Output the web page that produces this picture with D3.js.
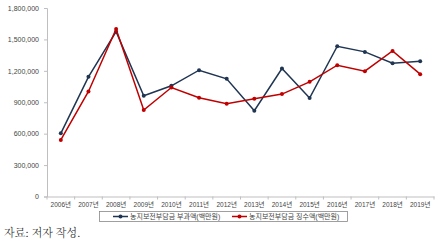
<!DOCTYPE html>
<html><head><meta charset="utf-8">
<script src="https://cdn.jsdelivr.net/npm/d3@7"></script>
<style>body{margin:0;background:#fff}svg{display:block}</style>
</head><body>
<svg id="c" width="445" height="244"></svg>
<script>
const years = ["2006년","2007년","2008년","2009년","2010년","2011년","2012년","2013년","2014년","2015년","2016년","2017년","2018년","2019년"];
const levied = [603000,1143000,1574000,962000,1057000,1206000,1124000,819000,1222000,940000,1435000,1381000,1273000,1292000];
const collected = [540000,1003000,1600000,825000,1041000,943000,886000,933000,978000,1095000,1254000,1197000,1390000,1168000];
const yTicks = [0,300000,600000,900000,1200000,1500000,1800000];
const seriesNames = ["농지보전부담금  부과액(백만원)","농지보전부담금  징수액(백만원)"];
const colors = ["#1f3552","#c00000"];

const svg = d3.select("#c");
const x = d3.scaleBand().domain(years).range([47,434]);
const y = d3.scaleLinear().domain([0,1800000]).range([196.5,8]);
const font = "Arial, 'Liberation Sans', 'Noto Sans CJK KR', sans-serif";

const ya = svg.append("g").attr("transform","translate(47,0)")
  .call(d3.axisLeft(y).tickValues(yTicks).tickFormat(d3.format(",")).tickSize(3).tickPadding(5));
ya.select(".domain").attr("stroke","#bfbfbf");
ya.selectAll(".tick line").attr("stroke","#bfbfbf");
ya.selectAll("text").attr("font-family",font).attr("font-size",7).attr("fill","#444");

const xa = svg.append("g").attr("transform","translate(0,196.5)")
  .call(d3.axisBottom(x).tickSize(0).tickPadding(6));
xa.select(".domain").attr("stroke","#bfbfbf");
xa.selectAll("text").attr("font-family",font).attr("font-size",6.5).attr("fill","#444");
const bounds = years.map(d=>x(d)).concat([x.range()[1]]);
xa.selectAll(".sep").data(bounds).enter().append("line")
  .attr("x1",d=>d).attr("x2",d=>d).attr("y1",0).attr("y2",3).attr("stroke","#bfbfbf");

const line = d3.line().x((d,i)=>x(years[i])+x.bandwidth()/2).y(d=>y(d));
[levied,collected].forEach((s,k)=>{
  svg.append("path").datum(s).attr("d",line).attr("fill","none")
    .attr("stroke",colors[k]).attr("stroke-width",1.5);
  svg.selectAll(".p"+k).data(s).enter().append("circle")
    .attr("cx",(d,i)=>x(years[i])+x.bandwidth()/2).attr("cy",d=>y(d))
    .attr("r",2).attr("fill",colors[k]);
});

const lg = svg.append("g");
lg.append("rect").attr("x",99.5).attr("y",211.5).attr("width",248).attr("height",10)
  .attr("fill","#fff").attr("stroke","#888").attr("stroke-width",0.8);
const lx = [113,232];
seriesNames.forEach((n,k)=>{
  lg.append("line").attr("x1",lx[k]).attr("x2",lx[k]+15).attr("y1",216.5).attr("y2",216.5)
    .attr("stroke",colors[k]).attr("stroke-width",1.5);
  lg.append("circle").attr("cx",lx[k]+7.5).attr("cy",216.5).attr("r",2).attr("fill",colors[k]);
  lg.append("text").attr("x",lx[k]+17).attr("y",216.5).attr("dy","0.35em")
    .attr("font-family",font).attr("font-size",7).attr("fill","#444").text(n);
});

svg.append("text").attr("x",4).attr("y",237).attr("font-family","'Noto Serif CJK KR','Noto Sans CJK KR',serif")
  .attr("font-size",11).attr("font-weight",300).attr("fill","#222").text("자료: 저자 작성.");
</script>
</body></html>
